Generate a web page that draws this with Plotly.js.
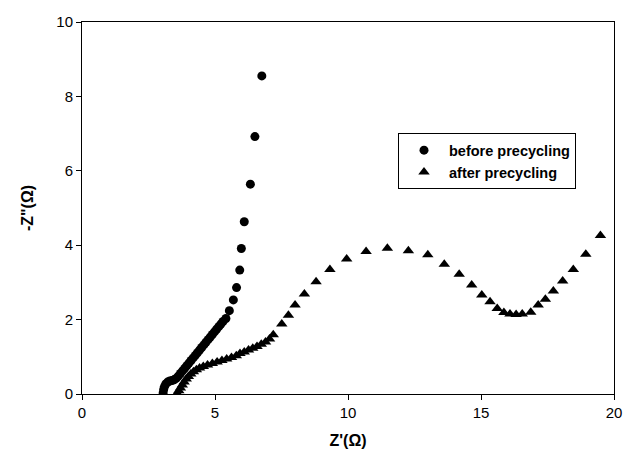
<!DOCTYPE html>
<html>
<head>
<meta charset="utf-8">
<script src="https://cdn.plot.ly/plotly-3.0.1.min.js"></script>
<style>html,body{margin:0;padding:0;background:#fff;}#chart{width:626px;height:466px;}</style>
</head>
<body>
<div id="chart"></div>
<script>
// before precycling: Z' and -Z''
const beforeX = [3.05, 3.07, 3.10, 3.15, 3.22, 3.30, 3.38, 3.46, 3.54, 3.62, 3.70, 3.78, 3.86, 3.94, 4.02, 4.10, 4.18, 4.26, 4.34, 4.42, 4.50, 4.58, 4.66, 4.74, 4.82, 4.90, 4.98, 5.06, 5.14, 5.22, 5.30, 5.41, 5.54, 5.69, 5.81, 5.93, 5.99, 6.10, 6.33, 6.50, 6.76];
const beforeY = [0.03, 0.12, 0.20, 0.27, 0.32, 0.35, 0.36, 0.38, 0.42, 0.48, 0.55, 0.62, 0.69, 0.76, 0.83, 0.90, 0.97, 1.04, 1.11, 1.18, 1.25, 1.32, 1.39, 1.46, 1.53, 1.60, 1.67, 1.74, 1.81, 1.88, 1.95, 2.03, 2.24, 2.53, 2.86, 3.33, 3.91, 4.63, 5.64, 6.92, 8.55];
// after precycling
const afterX = [3.58, 3.64, 3.70, 3.77, 3.84, 3.92, 4.00, 4.09, 4.19, 4.30, 4.42, 4.56, 4.72, 4.90, 5.08, 5.26, 5.44, 5.62, 5.80, 5.94, 6.10, 6.26, 6.42, 6.58, 6.74, 6.90, 7.05, 7.19, 7.51, 7.76, 8.01, 8.36, 8.80, 9.32, 9.95, 10.68, 11.48, 12.27, 13.00, 13.62, 14.18, 14.65, 15.03, 15.34, 15.61, 15.86, 16.09, 16.32, 16.55, 16.87, 17.15, 17.42, 17.72, 18.07, 18.47, 18.94, 19.49];
const afterY = [0.02, 0.09, 0.16, 0.24, 0.32, 0.40, 0.47, 0.54, 0.60, 0.65, 0.70, 0.74, 0.78, 0.82, 0.86, 0.90, 0.94, 0.98, 1.03, 1.09, 1.13, 1.18, 1.23, 1.28, 1.34, 1.40, 1.48, 1.59, 1.88, 2.12, 2.39, 2.69, 3.02, 3.35, 3.63, 3.83, 3.92, 3.85, 3.74, 3.49, 3.22, 2.93, 2.66, 2.48, 2.30, 2.19, 2.15, 2.14, 2.15, 2.20, 2.39, 2.55, 2.77, 3.04, 3.35, 3.76, 4.26];
const xTicks = [0, 5, 10, 15, 20];
const yTicks = [0, 2, 4, 6, 8, 10];

const traces = [
  {x: beforeX, y: beforeY, mode: 'markers', type: 'scatter', name: 'before precycling',
   marker: {symbol: 'circle', size: 9, color: '#000'}},
  {x: afterX, y: afterY, mode: 'markers', type: 'scatter', name: 'after precycling',
   marker: {symbol: 'triangle-up', size: 10, color: '#000'}}
];
const axisCommon = {
  showgrid: false, zeroline: false, showline: true, linecolor: '#000', linewidth: 1,
  mirror: true, ticks: 'outside', ticklen: 5, tickcolor: '#000',
  tickfont: {family: 'Liberation Sans, Arial, sans-serif', size: 15, color: '#000'}
};
const layout = {
  width: 626, height: 466,
  margin: {l: 82, r: 12, t: 22, b: 72},
  paper_bgcolor: '#fff', plot_bgcolor: '#fff',
  showlegend: true,
  legend: {x: 0.594, y: 0.701, xanchor: 'left', yanchor: 'top',
    bordercolor: '#000', borderwidth: 1, bgcolor: '#fff',
    font: {family: 'Liberation Sans, Arial, sans-serif', size: 14.5, color: '#000', weight: 'bold'},
    itemwidth: 40, tracegroupgap: 0},
  xaxis: Object.assign({}, axisCommon, {range: [0, 20], tickvals: xTicks,
    title: {text: "<b>Z'(Ω)</b>", font: {family: 'Liberation Sans, Arial, sans-serif', size: 16, color: '#000'}, standoff: 14}}),
  yaxis: Object.assign({}, axisCommon, {range: [0, 10], tickvals: yTicks,
    title: {text: '<b>-Z"(Ω)</b>', font: {family: 'Liberation Sans, Arial, sans-serif', size: 16, color: '#000'}, standoff: 18}})
};
Plotly.newPlot('chart', traces, layout, {displayModeBar: false, staticPlot: true});
</script>
</body>
</html>
